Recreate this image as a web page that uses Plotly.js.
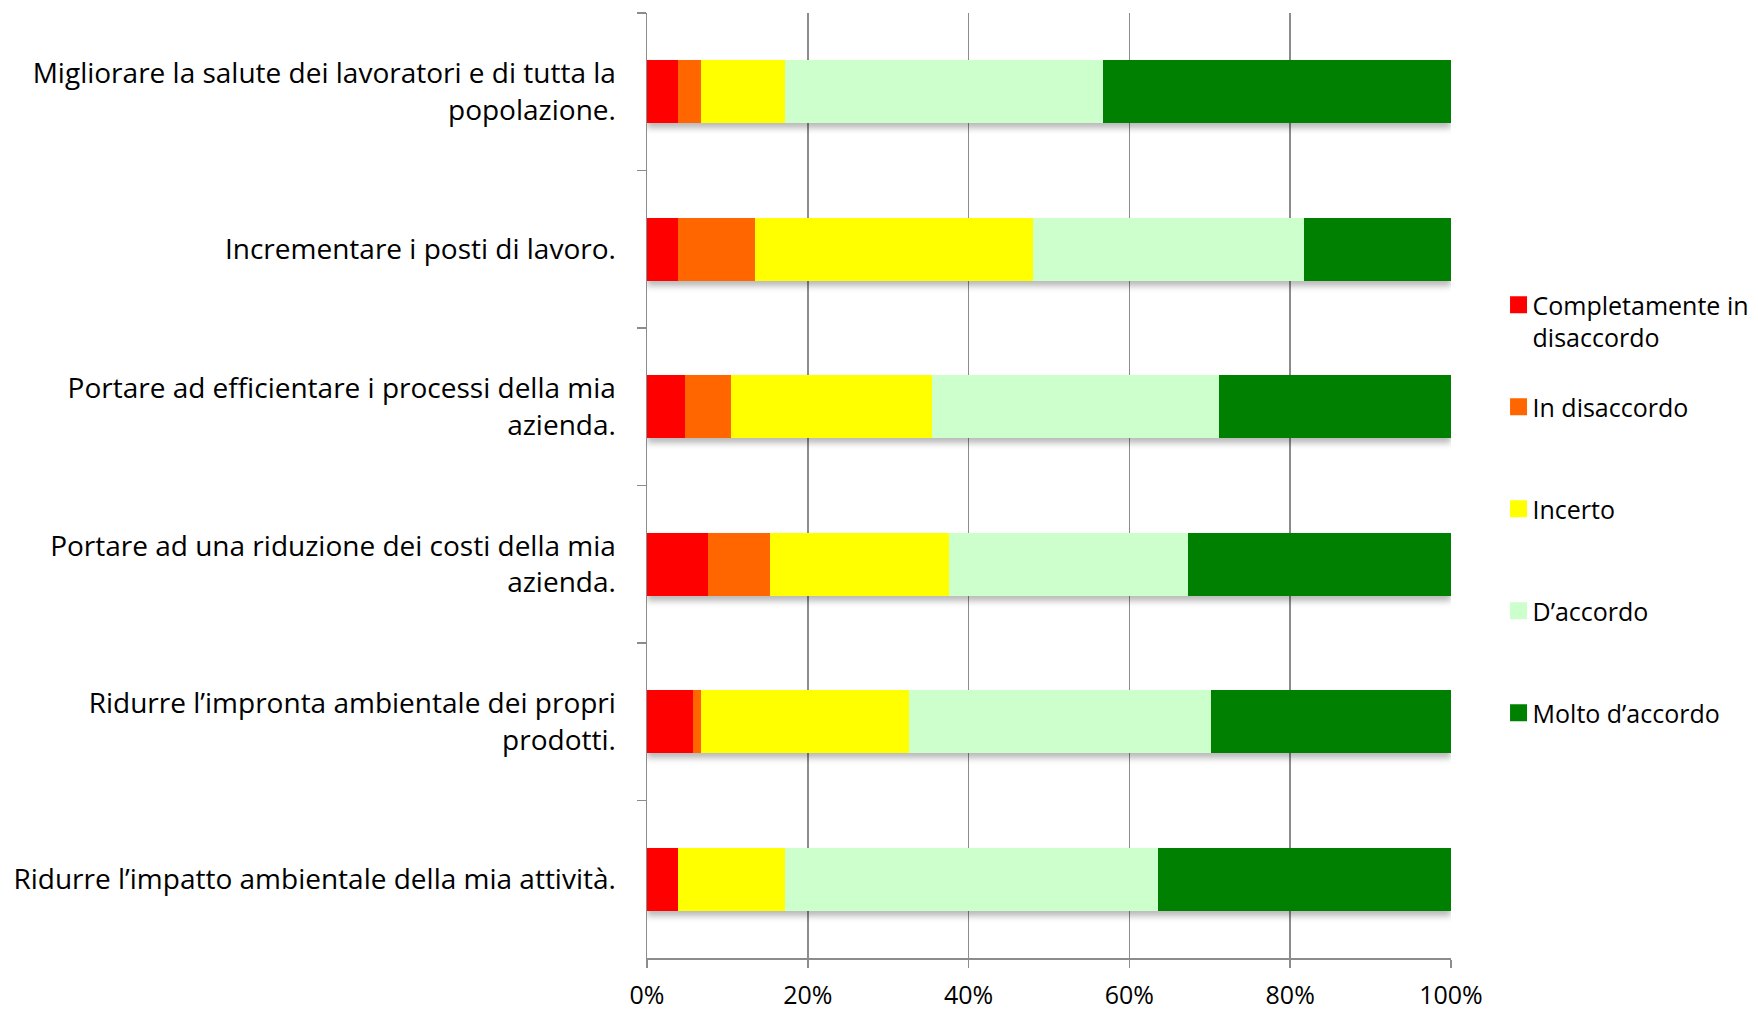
<!DOCTYPE html>
<html>
<head>
<meta charset="utf-8">
<script src="https://cdn.plot.ly/plotly-3.0.1.min.js"></script>
<style>
  html, body { margin: 0; padding: 0; background: #fff; }
  #chart { width: 1758px; height: 1011px; }
  .barlayer { filter: drop-shadow(0px 5px 3px rgba(0,0,0,0.28)); }
  .legendpoints path { d: path("M14.5,8.5H-2.5V-8.5H14.5Z"); }
</style>
</head>
<body>
<div id="chart"></div>
<script>
// Categories (top to bottom)
const categories = [
  "Migliorare la salute dei lavoratori e di tutta la<br>popolazione.",
  "Incrementare i posti di lavoro.",
  "Portare ad efficientare i processi della mia<br>azienda.",
  "Portare ad una riduzione dei costi della mia<br>azienda.",
  "Ridurre l’impronta ambientale dei propri<br>prodotti.",
  "Ridurre l’impatto ambientale della mia attività."
];

// Series names
const seriesNames = [
  "Completamente in<br>disaccordo",
  "In disaccordo<br>\u00A0",
  "Incerto<br>\u00A0",
  "D’accordo<br>\u00A0",
  "Molto d’accordo<br>\u00A0"
];

// Series values (%), one per category
const completamenteDisaccordo = [3.8, 3.8, 4.7, 7.6, 5.7, 3.8];
const inDisaccordo            = [2.9, 9.6, 5.8, 7.7, 1.0, 0.0];
const incerto                 = [10.5, 34.6, 25.0, 22.2, 25.9, 13.4];
const dAccordo                = [39.5, 33.7, 35.6, 29.8, 37.6, 46.3];
const moltoDAccordo           = [43.3, 18.3, 28.9, 32.7, 29.8, 36.5];

const seriesValues = [completamenteDisaccordo, inDisaccordo, incerto, dAccordo, moltoDAccordo];
const seriesColors = ["#FF0000", "#FF6600", "#FFFF00", "#CCFFCC", "#008000"];

// Tick values / labels for x axis
const xTickVals = [0, 20, 40, 60, 80, 100];
const xTickText = ["0%", "20%", "40%", "60%", "80%", "100%"];

const traces = seriesValues.map((vals, i) => ({
  type: "bar",
  orientation: "h",
  name: seriesNames[i],
  x: vals,
  y: categories,
  marker: { color: seriesColors[i], line: { width: 0 } },
  legendgroup: "g" + i,
  hoverinfo: "x+name"
}));

const FONT = "'Open Sans', Lato, sans-serif";

const layout = {
  width: 1758,
  height: 1011,
  paper_bgcolor: "#ffffff",
  plot_bgcolor: "#ffffff",
  margin: { l: 647, r: 307, t: 13, b: 53, pad: 0 },
  barmode: "stack",
  barnorm: "percent",
  bargap: 0.6,
  font: { family: FONT, size: 25, color: "#000" },
  showlegend: true,
  legend: {
    xref: "container", yref: "container",
    x: 0.849, y: 0.721,
    xanchor: "left", yanchor: "top",
    traceorder: "grouped",
    tracegroupgap: 34,
    valign: "top",
    font: { family: FONT, size: 25, color: "#000" },
    bgcolor: "rgba(0,0,0,0)"
  },
  xaxis: {
    range: [0, 100],
    tickvals: xTickVals,
    ticktext: xTickText,
    showgrid: true,
    gridcolor: "#8c8c8c",
    gridwidth: 1.5,
    zeroline: false,
    showline: true,
    linecolor: "#8c8c8c",
    linewidth: 1.5,
    ticks: "outside",
    ticklen: 8,
    tickwidth: 1.5,
    tickcolor: "#8c8c8c",
    ticklabelstandoff: 6,
    tickfont: { family: FONT, size: 25, color: "#000" },
    fixedrange: true
  },
  yaxis: {
    type: "category",
    autorange: "reversed",
    showgrid: false,
    zeroline: false,
    showline: true,
    linecolor: "#8c8c8c",
    linewidth: 1.5,
    ticks: "outside",
    tickson: "boundaries",
    ticklen: 9,
    tickwidth: 1.5,
    tickcolor: "#8c8c8c",
    ticklabelstandoff: 24,
    tickfont: { family: FONT, size: 28, color: "#000" },
    fixedrange: true
  }
};

Plotly.newPlot("chart", traces, layout, { displayModeBar: false, staticPlot: true });
</script>
</body>
</html>
